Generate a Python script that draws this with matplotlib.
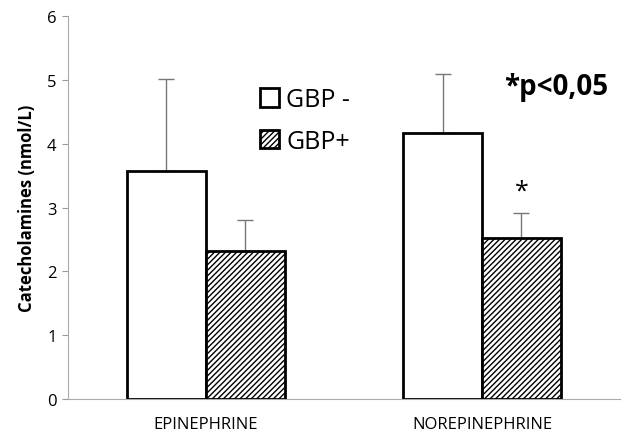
import numpy as np
import matplotlib
matplotlib.use('Agg')
import matplotlib.pyplot as plt

plt.rcParams['font.family'] = ['Open Sans', 'DejaVu Sans']
plt.rcParams['hatch.linewidth'] = 1.0

categories = ['EPINEPHRINE', 'NOREPINEPHRINE']
gbp_minus = [3.58, 4.17]
gbp_minus_err = [1.44, 0.93]
gbp_plus = [2.32, 2.52]
gbp_plus_err = [0.49, 0.39]

x = np.arange(len(categories))
w = 0.285

fig = plt.figure(figsize=(6.27, 4.39), dpi=100)
ax = fig.add_axes([0.108, 0.089, 0.881, 0.872])

b1 = ax.bar(x - w / 2, gbp_minus, w, color='white', edgecolor='black', linewidth=2,
            label='GBP -', zorder=3)
b2 = ax.bar(x + w / 2, gbp_plus, w, color='white', edgecolor='black', linewidth=2,
            hatch='//////', label='GBP+', zorder=3)

# one-sided error bars; lower caps hide behind the bar tops
err_kw = dict(fmt='none', ecolor='#777777', elinewidth=1, capsize=6, capthick=1, zorder=1)
ax.errorbar(x - w / 2, gbp_minus, yerr=[np.zeros(2), gbp_minus_err], **err_kw)
ax.errorbar(x + w / 2, gbp_plus, yerr=[np.zeros(2), gbp_plus_err], **err_kw)

ax.set_xlim(-0.5, 1.5)
ax.set_ylim(0, 6)
ax.set_yticks(range(7))
ax.set_xticks(x)
ax.set_xticklabels(categories, fontsize=12)
ax.tick_params(axis='x', length=0, pad=12)
ax.tick_params(axis='y', length=4, color='#999999', labelsize=12, pad=4)
for s in ['top', 'right']:
    ax.spines[s].set_visible(False)
for s in ['left', 'bottom']:
    ax.spines[s].set_color('#aaaaaa')
ax.set_ylabel('Catecholamines (nmol/L)', fontsize=12, fontweight='bold', labelpad=8)

ax.legend(handles=[b1, b2], frameon=False, fontsize=18, loc='upper left',
          bbox_to_anchor=(0.33, 0.84), handlelength=0.75, handleheight=0.75,
          handletextpad=0.3, labelspacing=0.65, borderaxespad=0)

ax.text(1.27, 4.9, '*p<0,05', fontsize=20, fontweight='bold', ha='center', va='center')
ax.text(x[1] + w / 2, gbp_plus[1] + gbp_plus_err[1] + 0.35, '*', fontsize=18,
        ha='center', va='center')

fig.savefig('out.png', dpi=100)
